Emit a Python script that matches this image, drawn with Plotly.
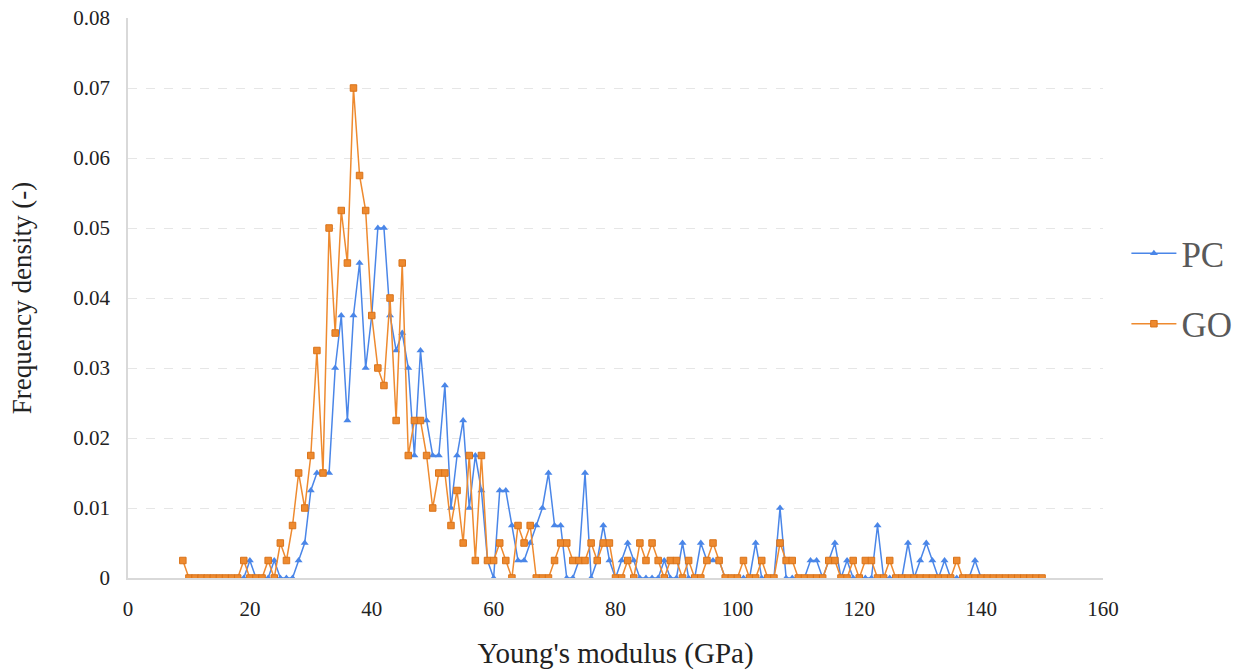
import plotly.graph_objects as go

x_pc = list(range(10, 151))
pc = [
    # 10-19
    0, 0, 0, 0, 0, 0, 0, 0, 0, 0,
    # 20-29
    0.0025, 0, 0, 0, 0.0025, 0, 0, 0, 0.0025, 0.005,
    # 30-39
    0.0125, 0.015, 0.015, 0.015, 0.03, 0.0375, 0.0225, 0.0375, 0.045, 0.03,
    # 40-49
    0.0375, 0.05, 0.05, 0.0375, 0.0325, 0.035, 0.03, 0.0175, 0.0325, 0.0225,
    # 50-59
    0.0175, 0.0175, 0.0275, 0.01, 0.0175, 0.0225, 0.01, 0.0175, 0.0125, 0.0025,
    # 60-69
    0, 0.0125, 0.0125, 0.0075, 0.0025, 0.0025, 0.005, 0.0075, 0.01, 0.015,
    # 70-79
    0.0075, 0.0075, 0, 0, 0.0025, 0.015, 0, 0.0025, 0.0075, 0.0025,
    # 80-89
    0, 0.0025, 0.005, 0.0025, 0, 0, 0, 0, 0.0025, 0,
    # 90-99
    0, 0.005, 0, 0, 0.005, 0.0025, 0.0025, 0.0025, 0, 0,
    # 100-109
    0, 0, 0, 0.005, 0, 0, 0, 0.01, 0, 0,
    # 110-119
    0, 0, 0.0025, 0.0025, 0, 0.0025, 0.005, 0, 0.0025, 0,
    # 120-129
    0, 0, 0, 0.0075, 0, 0, 0, 0, 0.005, 0,
    # 130-139
    0.0025, 0.005, 0.0025, 0, 0.0025, 0, 0, 0, 0, 0.0025,
    # 140-150
    0, 0, 0, 0, 0, 0, 0, 0, 0, 0, 0,
]

x_go = list(range(9, 151))
go_vals = [
    # 9
    0.0025,
    # 10-19
    0, 0, 0, 0, 0, 0, 0, 0, 0, 0.0025,
    # 20-29
    0, 0, 0, 0.0025, 0, 0.005, 0.0025, 0.0075, 0.015, 0.01,
    # 30-39
    0.0175, 0.0325, 0.015, 0.05, 0.035, 0.0525, 0.045, 0.07, 0.0575, 0.0525,
    # 40-49
    0.0375, 0.03, 0.0275, 0.04, 0.0225, 0.045, 0.0175, 0.0225, 0.0225, 0.0175,
    # 50-59
    0.01, 0.015, 0.015, 0.0075, 0.0125, 0.005, 0.0175, 0.0025, 0.0175, 0.0025,
    # 60-69
    0.0025, 0.005, 0.0025, 0, 0.0075, 0.005, 0.0075, 0, 0, 0,
    # 70-79
    0.0025, 0.005, 0.005, 0.0025, 0.0025, 0.0025, 0.005, 0.0025, 0.005, 0.005,
    # 80-89
    0, 0, 0.0025, 0, 0.005, 0.0025, 0.005, 0.0025, 0, 0.0025,
    # 90-99
    0.0025, 0, 0.0025, 0, 0, 0.0025, 0.005, 0.0025, 0, 0,
    # 100-109
    0, 0.0025, 0, 0, 0.0025, 0, 0, 0.005, 0.0025, 0.0025,
    # 110-119
    0, 0, 0, 0, 0, 0.0025, 0.0025, 0, 0, 0.0025,
    # 120-129
    0, 0.0025, 0.0025, 0, 0, 0.0025, 0, 0, 0, 0,
    # 130-139
    0, 0, 0, 0, 0, 0, 0.0025, 0, 0, 0,
    # 140-150
    0, 0, 0, 0, 0, 0, 0, 0, 0, 0, 0,
]

x_ticks = [0, 20, 40, 60, 80, 100, 120, 140, 160]
y_ticks = [0, 0.01, 0.02, 0.03, 0.04, 0.05, 0.06, 0.07, 0.08]
y_tick_labels = ["0", "0.01", "0.02", "0.03", "0.04", "0.05", "0.06", "0.07", "0.08"]

BLUE = "#4a86e8"
ORANGE = "#ee8a2f"
FONT = "Liberation Serif"

fig = go.Figure()
fig.add_trace(go.Scatter(
    x=x_pc, y=pc, name="PC", mode="lines+markers",
    line=dict(color=BLUE, width=1.5),
    marker=dict(symbol="triangle-up", size=7, color=BLUE),
    legendgroup="pc",
))
fig.add_trace(go.Scatter(
    x=x_go, y=go_vals, name="GO", mode="lines+markers",
    line=dict(color=ORANGE, width=1.5),
    marker=dict(symbol="square", size=6.5, color=ORANGE,
                line=dict(color="#d9731a", width=1)),
    legendgroup="go",
))

fig.update_layout(
    width=1240, height=672,
    margin=dict(l=128, r=137, t=18, b=94, autoexpand=False),
    paper_bgcolor="white", plot_bgcolor="white",
    font=dict(family=FONT, color="#222222"),
    showlegend=True,
    legend=dict(
        x=1.024, xanchor="left", y=0.517, yanchor="middle",
        font=dict(family=FONT, size=35, color="#595959"),
        tracegroupgap=22, itemwidth=45,
    ),
    xaxis=dict(
        range=[0, 160], tickvals=x_ticks, ticks="",
        showgrid=False, zeroline=False,
        showline=True, linecolor="#d9d9d9", linewidth=1.5,
        tickfont=dict(family=FONT, size=21, color="#222222"),
        ticklabelstandoff=11,
        title=dict(text="Young's modulus (GPa)",
                   font=dict(family=FONT, size=29, color="#222222"),
                   standoff=23),
    ),
    yaxis=dict(
        range=[0, 0.08], tickvals=y_ticks, ticktext=y_tick_labels, ticks="",
        showgrid=True, gridcolor="#e6e6e6", griddash="dash", gridwidth=1,
        zeroline=False,
        showline=True, linecolor="#d9d9d9", linewidth=1.5,
        tickfont=dict(family=FONT, size=21, color="#222222"),
        ticklabelstandoff=12,
        title=dict(text="Frequency density (-)",
                   font=dict(family=FONT, size=27, color="#222222"),
                   standoff=34),
    ),
)

fig.write_html("out.html")
